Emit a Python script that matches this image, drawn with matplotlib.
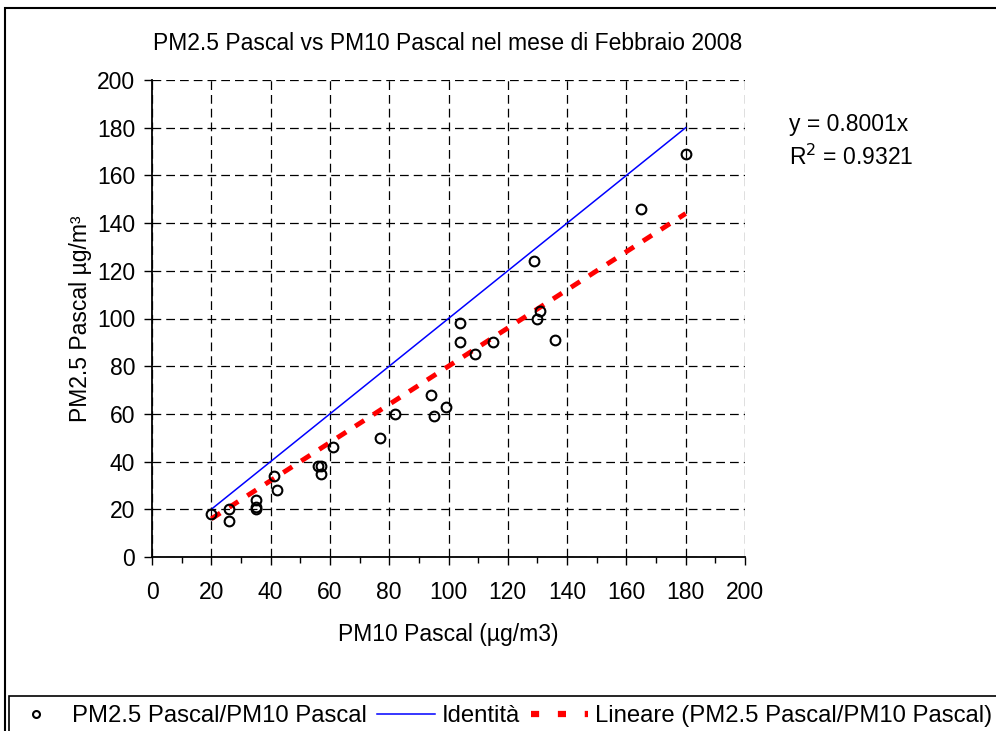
import matplotlib
matplotlib.use("Agg")
import matplotlib.pyplot as plt
from matplotlib.lines import Line2D
from matplotlib.patches import Rectangle
from matplotlib.ticker import MultipleLocator
import numpy as np

plt.rcParams['font.family'] = ['Liberation Sans', 'DejaVu Sans']

pm10 = [20, 26, 26, 35, 35, 35, 41, 42, 56, 57, 57, 61, 77, 82, 94, 95, 99,
        104, 104, 109, 115, 129, 130, 131, 136, 165, 180]
pm25 = [18, 20, 15, 24, 21, 20, 34, 28, 38, 38, 35, 46, 50, 60, 68, 59, 63,
        98, 90, 85, 90, 124, 100, 103, 91, 146, 169]
slope = 0.8001
r2 = 0.9321
line_x = [min(pm10), max(pm10)]

W, H = 996, 731
FS = 16.5
fig = plt.figure(figsize=(W / 100, H / 100), dpi=100)
ax = fig.add_axes([152 / W, 1 - 557 / H, (745 - 152) / W, (557 - 80) / H])

ax.set_xlim(0, 200)
ax.set_ylim(0, 200)
ax.xaxis.set_major_locator(MultipleLocator(20))
ax.xaxis.set_minor_locator(MultipleLocator(10))
ax.yaxis.set_major_locator(MultipleLocator(20))
ax.grid(True, which='major', color='black', linestyle=(0, (7, 4)), linewidth=0.9)
ax.set_axisbelow(True)
for s in ['top', 'right']:
    ax.spines[s].set_visible(False)
for s in ['left', 'bottom']:
    ax.spines[s].set_linewidth(1.3)
ax.tick_params(axis='both', which='major', direction='out', length=6, width=1,
               labelsize=FS)
ax.tick_params(axis='x', which='major', pad=11)
ax.tick_params(axis='y', which='major', pad=6)
ax.tick_params(axis='x', which='minor', direction='out', length=4, width=1)

ident_x = np.array(line_x, dtype=float)
ax.plot(ident_x, ident_x, color='#0000FF', linewidth=1.1, zorder=3)
ax.plot(ident_x, slope * ident_x, color='#FF0000', linewidth=3.5,
        linestyle=(0, (2.2, 2.2)), zorder=3)
ax.plot(pm10, pm25, linestyle='none', marker='o', markersize=7,
        markerfacecolor='none', markeredgecolor='black', markeredgewidth=1.5,
        zorder=4)

ax.set_xlabel('PM10 Pascal (µg/m3)', fontsize=FS, labelpad=14)
ax.set_ylabel('PM2.5 Pascal µg/m³', fontsize=FS, labelpad=4)
fig.text(448 / W, 1 - 43 / H, 'PM2.5 Pascal vs PM10 Pascal nel mese di Febbraio 2008',
         ha='center', va='center', fontsize=FS)
fig.text(789 / W, 1 - 125 / H, 'y = %.4fx' % slope, ha='left', va='center', fontsize=FS)
fig.text(789 / W, 1 - 157 / H, 'R$^2$ = %.4f' % r2, ha='left', va='center', fontsize=FS)

# outer frame
fig.patches.append(Rectangle((5 / W, -0.1), 1.2, 1.1 - 8 / H, transform=fig.transFigure,
                             fill=False, edgecolor='black', linewidth=1.5))
fig.patches.append(Rectangle((9 / W, -0.1), 1.2, 0.1 + 1 - 696 / H, transform=fig.transFigure,
                             fill=False, edgecolor='black', linewidth=1.2))

handles = [
    Line2D([], [], linestyle='none', marker='o', markersize=5, markerfacecolor='none',
           markeredgecolor='black', markeredgewidth=1.5),
    Line2D([], [], color='#0000FF', linewidth=1.1),
    Line2D([], [], color='#FF0000', linewidth=4.5, linestyle=(0, (1.3, 3.0))),
]
labels = ['PM2.5 Pascal/PM10 Pascal', 'Identità', 'Lineare (PM2.5 Pascal/PM10 Pascal)']
fig.legend(handles, labels, loc='center', bbox_to_anchor=(0.502, 1 - 716 / H), ncol=3,
           frameon=False, fontsize=17.2, handlelength=2.4, columnspacing=0.45,
           handletextpad=0.3, borderaxespad=0, borderpad=0)

fig.savefig('out.png', dpi=100)
